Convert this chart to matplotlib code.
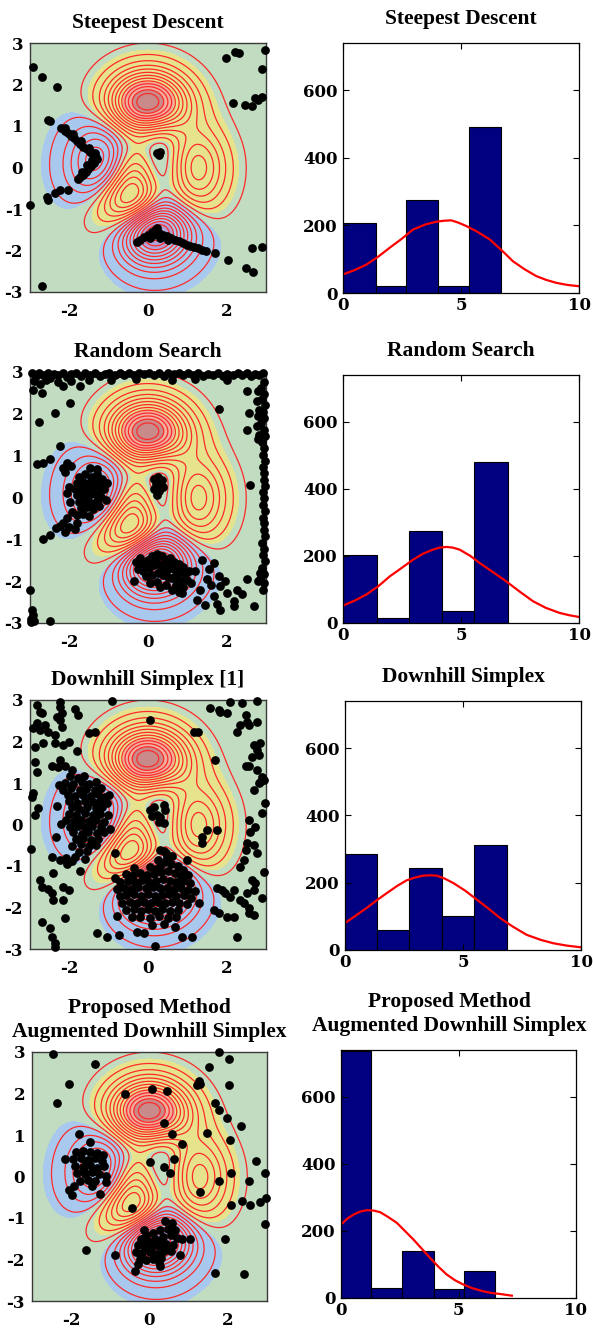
import numpy as np
import matplotlib
matplotlib.use("Agg")
import matplotlib.pyplot as plt

plt.rcParams["axes.unicode_minus"] = False

# ---------------- data ----------------
titles_left = ["Steepest Descent", "Random Search", "Downhill Simplex [1]",
               "Proposed Method\nAugmented Downhill Simplex"]
titles_right = ["Steepest Descent", "Random Search", "Downhill Simplex",
                "Proposed Method\nAugmented Downhill Simplex"]

# histogram bin edges and counts (per method)
hist_edges = [
    [0, 1.38, 2.68, 4.03, 5.34, 6.68],
    [0, 1.44, 2.80, 4.18, 5.55, 6.99],
    [0, 1.37, 2.73, 4.11, 5.48, 6.88],
    [0, 1.29, 2.61, 3.97, 5.24, 6.56],
]
hist_counts = [
    [208, 20, 274, 20, 492],
    [203, 14, 274, 35, 481],
    [284, 60, 244, 102, 313],
    [736, 29, 139, 27, 82],
]
# red fitted curve
curve_x = [
    [0, 0.5, 0.99, 1.5, 1.98, 2.5, 2.97, 3.5, 3.95, 4.3, 4.59, 4.9, 5.23, 5.7, 6.21, 6.7,
     7.2, 7.7, 8.19, 8.6, 9.04, 9.5, 10],
    [0, 0.5, 0.99, 1.5, 1.98, 2.5, 2.97, 3.4, 3.81, 4.1, 4.38, 4.65, 4.94, 5.4, 5.79, 6.35,
     6.92, 7.5, 8.05, 8.6, 9.18, 9.6, 10],
    [0, 0.45, 0.92, 1.35, 1.77, 2.2, 2.61, 3.0, 3.32, 3.6, 3.88, 4.2, 4.59, 5.1, 5.58, 6.1,
     6.57, 7.1, 7.7, 8.3, 8.83, 9.4, 10],
    [0, 0.27, 0.54, 0.82, 1.10, 1.38, 1.67, 2.0, 2.38, 2.72, 3.09, 3.45, 3.80, 4.15, 4.5,
     4.85, 5.21, 5.6, 6.06, 6.4, 6.77, 7.27],
]
curve_y = [
    [55, 68, 84, 108, 134, 161, 188, 203, 211, 214, 215, 208, 198, 181, 159, 128,
     94, 70, 50, 39, 30, 24, 20],
    [52, 67, 85, 110, 139, 165, 189, 207, 219, 225, 227, 225, 219, 200, 179, 152,
     124, 93, 65, 45, 30, 23, 18],
    [80, 102, 125, 148, 169, 190, 207, 216, 221, 222, 221, 213, 199, 176, 150, 122,
     95, 70, 45, 30, 20, 13, 8],
    [219, 237, 249, 258, 262, 261, 256, 242, 224, 200, 174, 146, 119, 93, 70,
     53, 40, 29, 20, 15, 12, 7],
]

# ---- search points (x, y) ----
pts_steepest = [
    (-2.92, 2.43), (-2.69, 2.19), (-2.31, 1.93), (-2.54, 1.14), (-2.50, 1.12),
    (-2.23, -0.54), (-2.37, -0.61), (-2.03, -0.54), (-2.58, -0.70), (-2.54, -0.78),
    (-2.99, -0.90), (-2.69, -2.86), (0.22, 0.34), (0.31, 0.38), (0.27, 0.30),
    (2.04, -2.23), (2.64, -1.95), (2.89, -1.92), (2.49, -2.43), (2.66, -2.53),
    (1.98, 2.63), (2.21, 2.79), (2.32, 2.75), (2.98, 2.82), (2.91, 2.37),
    (2.17, 1.55), (2.47, 1.51), (2.64, 1.48), (2.72, 1.67), (2.89, 1.69), (2.80, 1.62),
    # trajectory towards left minimum
    (-2.20, 0.94), (-2.12, 0.88), (-2.04, 0.82), (-1.96, 0.76), (-1.88, 0.70),
    (-1.80, 0.63), (-1.72, 0.57), (-1.64, 0.50), (-1.56, 0.44), (-1.48, 0.38),
    (-1.40, 0.32), (-1.33, 0.26), (-1.30, 0.20), (-1.38, 0.12), (-1.45, 0.04),
    (-1.52, -0.04), (-1.58, -0.11), (-1.65, -0.18), (-1.72, -0.24), (-1.77, -0.28),
    (-2.10, 0.95), (-1.90, 0.80), (-1.70, 0.65), (-1.50, 0.48), (-1.35, 0.35),
    (-1.42, 0.18), (-1.55, 0.05), (-1.68, -0.12),
    # trajectory along bottom minimum
    (-0.29, -1.80), (-0.20, -1.74), (-0.10, -1.68), (0.00, -1.62), (0.10, -1.56),
    (0.18, -1.50), (0.22, -1.46), (0.28, -1.58), (0.38, -1.62), (0.48, -1.66),
    (0.58, -1.70), (0.68, -1.74), (0.78, -1.78), (0.88, -1.82), (0.98, -1.86),
    (1.08, -1.89), (1.18, -1.92), (1.28, -1.95), (1.38, -1.98), (1.48, -2.00),
    (1.70, -2.07), (0.05, -1.70), (0.30, -1.70), (0.50, -1.75), (0.12, -1.62),
]

pts_random = [
    # top border
    (-2.95, 2.97), (-2.85, 2.90), (-2.78, 2.98), (-2.66, 2.93), (-2.55, 2.97), (-2.48, 2.86),
    (-2.40, 2.96), (-2.28, 2.92), (-2.15, 2.98), (-2.05, 2.88), (-1.95, 2.95), (-1.82, 2.97),
    (-1.70, 2.90), (-1.60, 2.97), (-1.48, 2.93), (-1.35, 2.98), (-1.22, 2.91), (-1.10, 2.96),
    (-0.98, 2.98), (-0.85, 2.92), (-0.72, 2.97), (-0.60, 2.94), (-0.48, 2.98), (-0.35, 2.92),
    (-0.22, 2.97), (-0.10, 2.95), (0.02, 2.98), (0.15, 2.93), (0.28, 2.97), (0.40, 2.91),
    (0.52, 2.97), (0.65, 2.95), (0.78, 2.98), (0.90, 2.92), (1.02, 2.97), (1.15, 2.94),
    (1.28, 2.98), (1.40, 2.91), (1.52, 2.96), (1.65, 2.93), (1.78, 2.98), (1.90, 2.90),
    (2.02, 2.96), (2.15, 2.93), (2.28, 2.98), (2.40, 2.92), (2.52, 2.97), (2.62, 2.90),
    (2.72, 2.96), (2.82, 2.93), (2.92, 2.98), (-2.90, 2.78), (-2.75, 2.72), (-2.60, 2.80),
    (-2.30, 2.75), (-1.95, 2.78), (-1.50, 2.82), (-0.95, 2.80), (-0.30, 2.84), (0.60, 2.82),
    (1.20, 2.84), (2.00, 2.80),
    # upper-left scatter
    (-2.92, 2.58), (-2.70, 2.50), (-2.15, 2.66), (-1.73, 2.66), (-1.98, 2.27), (-2.36, 2.02),
    (-2.76, 1.80), (-2.25, 1.24), (-2.49, 0.92), (-2.66, 0.82), (-2.83, 0.80),
    # right border
    (2.95, 2.75), (2.88, 2.62), (2.96, 2.48), (2.90, 2.35), (2.97, 2.20), (2.92, 2.05),
    (2.96, 1.90), (2.88, 1.78), (2.95, 1.62), (2.97, 1.48), (2.91, 1.33), (2.96, 1.18),
    (2.93, 1.02), (2.97, 0.88), (2.92, 0.72), (2.96, 0.58), (2.94, 0.42), (2.97, 0.28),
    (2.92, 0.12), (2.96, -0.02), (2.93, -0.18), (2.97, -0.32), (2.92, -0.48), (2.96, -0.62),
    (2.94, -0.78), (2.97, -0.92), (2.91, -1.08), (2.96, -1.22), (2.93, -1.38), (2.97, -1.52),
    (2.90, -1.68), (2.95, -1.82), (2.86, -1.95), (2.96, -2.05), (2.92, -2.22), (2.80, 2.55),
    (2.78, 2.30), (2.82, 2.10), (2.80, 1.95), (2.76, 1.70), (2.82, 1.50), (2.84, -1.80),
    (2.80, -2.00), (2.52, 2.54), (2.56, 2.02), (2.52, 1.62), (2.79, 1.39), (1.80, 2.12),
    (2.60, 0.31),
    # lower-left corner
    (-3.00, -2.20), (-2.95, -2.70), (-2.92, -2.80), (-2.97, -2.90), (-2.90, -2.95),
    (-2.97, -2.98), (-2.49, -2.96),
    # left minimum cluster
    (-1.75, 0.50), (-1.60, 0.55), (-1.45, 0.50), (-1.30, 0.55), (-1.18, 0.45), (-1.80, 0.35),
    (-1.65, 0.38), (-1.50, 0.35), (-1.35, 0.40), (-1.22, 0.30), (-1.85, 0.20), (-1.70, 0.22),
    (-1.55, 0.20), (-1.40, 0.22), (-1.25, 0.15), (-1.12, 0.20), (-1.80, 0.05), (-1.65, 0.08),
    (-1.50, 0.05), (-1.35, 0.08), (-1.20, 0.02), (-1.75, -0.10), (-1.60, -0.08), (-1.45, -0.12),
    (-1.30, -0.08), (-1.70, -0.25), (-1.55, -0.22), (-1.40, -0.28), (-1.25, -0.20),
    (-1.57, 0.28), (-1.42, 0.14), (-1.62, -0.01), (-1.48, -0.18), (-1.33, 0.31),
    (-2.15, 0.70), (-2.05, 0.82), (-1.95, 0.75), (-2.10, 0.60), (-1.48, 0.70), (-1.30, 0.68),
    (-2.00, 0.25), (-2.05, 0.10), (-1.98, -0.10), (-1.92, -0.35), (-1.80, -0.42), (-1.65, -0.40),
    (-1.50, -0.45), (-1.08, -0.05), (-1.05, 0.35),
    (-2.05, -0.50), (-2.15, -0.60), (-2.25, -0.68), (-2.35, -0.72), (-2.00, -0.70),
    (-2.10, -0.82), (-2.50, -0.90), (-2.66, -1.00), (-1.85, -0.75), (-1.80, -0.60),
    # centre saddle cluster
    (0.15, 0.45), (0.25, 0.50), (0.35, 0.42), (0.20, 0.32), (0.30, 0.30), (0.15, 0.20),
    (0.28, 0.15), (0.38, 0.25), (0.22, 0.05),
    # bottom minimum cluster
    (-0.30, -1.55), (-0.20, -1.45), (-0.10, -1.60), (0.00, -1.50), (0.10, -1.40), (0.22, -1.35),
    (0.35, -1.40), (0.45, -1.50), (0.55, -1.45), (0.65, -1.55), (0.78, -1.60), (0.90, -1.65),
    (-0.25, -1.70), (-0.12, -1.75), (0.02, -1.68), (0.15, -1.62), (0.28, -1.58), (0.40, -1.65),
    (0.52, -1.70), (0.65, -1.72), (0.80, -1.78), (0.95, -1.82), (1.05, -1.75),
    (-0.05, -1.88), (0.10, -1.85), (0.25, -1.80), (0.38, -1.85), (0.50, -1.90), (0.62, -1.92),
    (0.75, -1.95), (0.88, -2.00), (1.00, -1.98), (0.05, -2.05), (0.22, -2.02), (0.45, -2.08),
    (0.70, -2.10), (0.90, -2.15), (-0.35, -2.00), (0.30, -2.15), (0.80, -2.25), (1.10, -2.05),
    (0.60, -2.20), (0.18, -1.48), (0.58, -1.60), (0.34, -1.74), (-0.18, -1.60), (0.72, -1.85),
    # lower-right scatter
    (1.37, -1.49), (1.54, -1.72), (1.67, -1.57), (1.80, -1.88), (1.84, -2.12), (2.01, -2.28),
    (2.18, -2.48), (2.26, -2.21), (1.67, -2.36), (1.84, -2.68), (1.46, -2.56), (2.52, -1.96),
    (2.69, -2.60), (2.18, -2.60), (1.33, -2.20), (0.86, -2.28), (1.20, -1.75), (1.50, -1.95),
    (1.60, -2.10), (1.95, -2.00), (2.40, -2.30), (1.25, -2.45), (1.75, -2.55),
]

pts_simplex = [
    # scattered (left half)
    (-2.81, 2.88), (-2.75, 2.72), (-2.70, 2.68), (-2.24, 2.96), (-2.25, 2.84), (-2.19, 2.68),
    (-2.32, 2.60), (-2.24, 2.53), (-1.85, 2.78), (-1.79, 2.64), (-2.83, 2.44), (-2.92, 2.32),
    (-2.62, 2.40), (-2.75, 2.28), (-2.53, 2.24), (-2.19, 2.36), (-2.36, 2.16), (-2.66, 1.97),
    (-2.87, 1.86), (-2.36, 1.96), (-2.15, 1.92), (-2.02, 2.00), (-1.81, 1.76), (-2.24, 1.55),
    (-2.45, 1.41), (-2.28, 1.39), (-2.11, 1.41), (-1.94, 1.31), (-2.87, 1.51), (-2.83, 1.27),
    (-1.51, 2.21), (-1.34, 2.24), (-0.92, 2.98), (0.06, 2.53), (-2.92, 0.75), (-2.96, 0.67),
    (-2.87, 0.23), (-2.79, 0.39), (-2.98, -0.60), (-2.45, -0.79), (-2.24, -0.86), (-2.41, -1.18),
    (-1.73, -1.11), (-2.15, -1.50), (-2.02, -1.58), (-2.75, -1.34), (-2.70, -1.50), (-2.53, -1.56),
    (-2.45, -1.66), (-2.41, -1.82), (-2.15, -1.82), (-2.70, -2.34), (-2.11, -2.26), (-2.49, -2.50),
    (-2.45, -2.70), (-2.36, -2.86), (-2.36, -2.94), (-1.30, -2.62), (-1.05, -2.70), (-0.75, -2.66),
    (-0.28, -2.58), (-0.11, -2.62), (0.18, -2.93), (0.86, -2.70), (1.12, -2.70), (0.69, -2.46),
    # scattered (right half)
    (1.58, 2.80), (1.80, 2.76), (1.84, 2.72), (2.01, 2.68), (2.09, 2.94), (2.39, 2.92),
    (2.76, 2.98), (2.48, 2.64), (2.52, 2.48), (2.35, 2.40), (2.56, 2.40), (2.77, 2.48),
    (2.26, 2.24), (1.16, 2.24), (1.26, 2.24), (2.69, 1.92), (2.77, 1.80), (2.65, 1.63),
    (2.86, 1.96), (2.82, 1.67), (1.71, 1.55), (2.48, 1.41), (2.56, 1.41), (2.77, 1.31),
    (2.90, 1.15), (2.86, 1.03), (2.82, 0.99), (2.94, 1.07), (2.69, 0.83), (2.98, 0.51),
    (2.90, 0.27), (2.56, 0.11), (2.60, -0.17), (2.73, -0.05), (2.52, -0.45), (2.69, -0.49),
    (2.48, -0.61), (2.77, -0.69), (2.43, -0.86), (2.35, -1.02), (2.94, -1.14), (1.75, -1.54),
    (1.88, -1.58), (1.97, -1.66), (2.09, -1.74), (2.18, -1.58), (2.52, -1.66), (2.65, -1.34),
    (2.73, -1.42), (2.69, -1.58), (2.90, -1.78), (2.35, -1.82), (2.43, -1.90), (2.56, -2.02),
    (2.56, -2.14), (2.69, -2.18), (2.01, -2.22), (2.18, -2.22), (1.67, -2.06), (1.80, -2.14),
    (2.26, -2.70), (1.50, -0.13), (1.75, -0.13), (1.37, -0.29), (1.37, -0.45), (0.99, -0.86),
    (0.48, -0.78), (0.40, -0.65), (0.31, -1.02), (-0.84, -0.69),
    # centre saddle cluster
    (0.06, 0.35), (0.14, 0.43), (0.22, 0.23), (0.40, 0.47), (0.44, 0.35), (0.31, 0.19),
    (0.40, 0.03), (0.27, 0.07), (0.10, 0.20),
    # left minimum cluster
    (-1.98, 1.16), (-1.79, 1.13), (-1.62, 1.17), (-2.12, 1.01), (-1.91, 0.98), (-1.68, 1.02),
    (-1.49, 0.97), (-1.31, 1.03), (-2.16, 0.84), (-1.96, 0.87), (-1.74, 0.83), (-1.57, 0.86),
    (-1.36, 0.82), (-1.19, 0.88), (-2.04, 0.71), (-1.86, 0.68), (-1.64, 0.72), (-1.44, 0.69),
    (-1.27, 0.73), (-1.09, 0.67), (-2.02, 0.56), (-1.81, 0.53), (-1.59, 0.57), (-1.41, 0.54),
    (-1.22, 0.56), (-1.04, 0.52), (-1.94, 0.41), (-1.76, 0.38), (-1.54, 0.42), (-1.33, 0.39),
    (-1.16, 0.41), (-2.01, 0.26), (-1.82, 0.23), (-1.61, 0.27), (-1.39, 0.24), (-1.21, 0.26),
    (-1.02, 0.22), (-2.09, 0.11), (-1.88, 0.08), (-1.71, 0.12), (-1.49, 0.09), (-1.31, 0.11),
    (-1.12, 0.07), (-1.99, -0.06), (-1.79, -0.03), (-1.61, -0.07), (-1.42, -0.04), (-1.19, -0.06),
    (-1.91, -0.19), (-1.69, -0.22), (-1.52, -0.18), (-1.29, -0.21), (-1.12, -0.19),
    (-1.84, -0.36), (-1.66, -0.33), (-1.44, -0.37), (-1.26, -0.34), (-1.92, -0.51),
    (-1.71, -0.48), (-1.49, -0.52), (-1.31, -0.49), (-1.76, -0.66), (-1.54, -0.63),
    (-2.08, -0.81), (-1.86, -0.78), (-1.61, -0.82), (-2.26, 0.95), (-2.31, 0.45),
    (-2.21, 0.01), (-2.34, -0.29), (-0.99, 0.71), (-0.96, -0.11), (-2.05, -0.94), (-1.94, -0.89),
    # bottom minimum cluster
    (0.30, -0.62), (0.45, -0.68), (0.60, -0.75), (0.25, -0.85), (0.42, -0.90), (0.58, -0.95),
    (0.75, -1.00), (-0.35, -1.05), (0.05, -1.02), (0.20, -1.08), (0.88, -1.10),
    (-0.55, -1.20), (-0.38, -1.22), (-0.20, -1.18), (-0.02, -1.22), (0.15, -1.20), (0.32, -1.15),
    (0.50, -1.12), (0.68, -1.18), (0.85, -1.25), (1.02, -1.22),
    (-0.70, -1.38), (-0.52, -1.35), (-0.34, -1.38), (-0.16, -1.34), (0.02, -1.38), (0.20, -1.35),
    (0.38, -1.32), (0.55, -1.36), (0.72, -1.38), (0.90, -1.35), (1.08, -1.42),
    (-0.78, -1.55), (-0.60, -1.52), (-0.42, -1.55), (-0.25, -1.50), (-0.06, -1.53), (0.12, -1.50),
    (0.30, -1.54), (0.48, -1.52), (0.66, -1.55), (0.84, -1.52), (1.02, -1.58), (1.20, -1.60),
    (-0.72, -1.72), (-0.55, -1.70), (-0.36, -1.68), (-0.18, -1.72), (0.00, -1.68), (0.18, -1.72),
    (0.36, -1.70), (0.54, -1.68), (0.72, -1.72), (0.92, -1.70), (1.10, -1.76),
    (-0.65, -1.90), (-0.46, -1.86), (-0.28, -1.90), (-0.10, -1.86), (0.08, -1.90), (0.26, -1.86),
    (0.44, -1.90), (0.62, -1.86), (0.80, -1.90), (0.98, -1.92),
    (-0.55, -2.06), (-0.36, -2.04), (-0.18, -2.08), (0.00, -2.04), (0.18, -2.08), (0.36, -2.04),
    (0.55, -2.08), (0.75, -2.05), (-0.40, -2.24), (-0.20, -2.22), (0.05, -2.25), (0.28, -2.20),
    (0.50, -2.26), (0.72, -2.22), (-0.85, -1.30), (1.30, -1.90), (-0.80, -2.20), (0.10, -2.42),
    (0.40, -2.40),
]

pts_proposed = [
    (-2.46, 2.96), (-1.38, 2.70), (-2.06, 2.22), (-2.36, 1.78), (-0.62, 1.98), (0.06, 2.11),
    (0.45, 2.05), (0.36, 1.29), (0.57, 1.02), (0.83, 0.79), (0.02, 0.35), (0.36, 0.23),
    (0.62, 0.43), (0.53, 0.08), (1.30, -0.37), (-0.45, -0.75), (1.78, 3.00), (2.04, 2.82),
    (1.51, 2.64), (1.26, 2.30), (1.21, 2.20), (1.30, 2.24), (2.04, 2.20), (1.68, 1.77),
    (1.77, 1.61), (1.98, 1.42), (2.34, 1.21), (1.47, 1.05), (2.06, 0.87), (2.72, 0.37),
    (2.09, 0.08), (1.78, -0.12), (2.53, -0.12), (2.96, 0.08), (2.97, -0.53), (2.83, -0.61),
    (2.56, -0.69), (2.36, -0.59), (2.09, -0.69), (2.96, -1.15), (1.92, -1.50), (1.68, -2.33),
    (2.42, -2.36), (1.04, -1.50), (0.83, -1.50), (0.77, -1.90), (-0.87, -1.90), (-1.61, -1.76),
    (-0.36, -2.28), (0.28, -2.16),
    # left minimum cluster
    (-1.79, 1.03), (-1.51, 0.83), (-2.15, 0.41), (-1.26, -0.43), (-1.98, -0.45), (-2.06, -0.33),
    (-1.88, 0.58), (-1.70, 0.62), (-1.52, 0.60), (-1.33, 0.57), (-1.18, 0.52), (-1.95, 0.42),
    (-1.76, 0.44), (-1.58, 0.40), (-1.40, 0.45), (-1.22, 0.38), (-1.90, 0.26), (-1.71, 0.22),
    (-1.52, 0.27), (-1.34, 0.21), (-1.15, 0.25), (-1.84, 0.08), (-1.65, 0.05), (-1.46, 0.10),
    (-1.28, 0.06), (-1.10, 0.02), (-1.78, -0.10), (-1.58, -0.08), (-1.38, -0.12), (-1.92, -0.22),
    (-1.10, -0.14), (-1.48, -0.24), (-1.62, 0.33), (-1.44, 0.17), (-1.68, 0.14),
    # bottom minimum cluster
    (0.40, -1.08), (0.58, -1.12), (0.66, -1.28), (0.48, -1.26), (0.28, -1.30), (0.10, -1.36),
    (-0.08, -1.42), (-0.22, -1.50), (-0.05, -1.55), (0.15, -1.50), (0.35, -1.45), (0.55, -1.42),
    (0.70, -1.48), (-0.30, -1.66), (-0.12, -1.70), (0.06, -1.66), (0.24, -1.68), (0.42, -1.62),
    (0.60, -1.64), (-0.35, -1.82), (-0.18, -1.85), (0.00, -1.82), (0.18, -1.86), (0.38, -1.80),
    (0.55, -1.80), (-0.25, -1.98), (-0.08, -2.00), (0.10, -1.98), (0.30, -1.96), (-0.30, -2.10),
    (-0.15, -1.28), (0.25, -2.05), (0.25, -1.56), (0.05, -1.75), (0.45, -1.72), (-0.20, -1.62),
]
all_pts = [pts_steepest, pts_random, pts_simplex, pts_proposed]

# ---------------- layout (pixels of a 593x1328 canvas) ----------------
W, H = 593, 1328
left_boxes = [(30, 43, 266, 292), (30, 372, 266, 623), (30, 700, 266, 949), (32, 1052, 267, 1301)]
right_boxes = [(343, 43, 579, 293), (343, 375, 579, 623), (345, 701, 581, 950), (341, 1050, 576, 1298)]
right_title_x = [0.5, 0.5, 0.5, 0.46]


def frac(b):
    x0, y0, x1, y1 = b
    return [x0 / W, 1 - y1 / H, (x1 - x0) / W, (y1 - y0) / H]


fig = plt.figure(figsize=(W / 100, H / 100), dpi=100)
fig.patch.set_facecolor("white")

TITLE_FONT = dict(family="Liberation Serif", weight="bold", size=15.5)
TICK_FAMILY = "DejaVu Serif"
TICK_SIZE = 12

# surface (MATLAB peaks function) on which the searches run
g = np.linspace(-3, 3, 300)
X, Y = np.meshgrid(g, g)
Z = (3 * (1 - X) ** 2 * np.exp(-X ** 2 - (Y + 1) ** 2)
     - 10 * (X / 5 - X ** 3 - Y ** 5) * np.exp(-X ** 2 - Y ** 2)
     - 1 / 3 * np.exp(-(X + 1) ** 2 - Y ** 2))
fill_levels = [-7.0, -5.0, -0.12, 0.6, 5.4, 7.0, 8.5]
fill_colors = ["#b0a3d8", "#a9c8ee", "#c1dcc1", "#e7e28c", "#efae9e", "#c98a8a"]
line_levels = np.arange(-6.3, 8.0, 0.6)

for i in range(4):
    ax = fig.add_axes(frac(left_boxes[i]))
    ax.contourf(X, Y, Z, levels=fill_levels, colors=fill_colors)
    ax.contour(X, Y, Z, levels=line_levels, colors="#ff2a2a", linewidths=0.9,
               linestyles="solid")
    px = [p[0] for p in all_pts[i]]
    py = [p[1] for p in all_pts[i]]
    ax.plot(px, py, "o", color="black", ms=6.3, mew=0, clip_on=False, zorder=5)
    ax.set_xlim(-3, 3)
    ax.set_ylim(-3, 3)
    ax.set_xticks([-2, 0, 2])
    ax.set_yticks([-3, -2, -1, 0, 1, 2, 3])
    ax.tick_params(direction="in", length=0, pad=5)
    ax.tick_params(axis="x", pad=8)
    for lab in ax.get_xticklabels() + ax.get_yticklabels():
        lab.set_fontfamily(TICK_FAMILY)
        lab.set_fontweight("bold")
        lab.set_fontsize(TICK_SIZE)
    for s in ax.spines.values():
        s.set_color("#3a3a3a")
        s.set_linewidth(1.0)
    ax.set_title(titles_left[i], pad=11, linespacing=1.25, **TITLE_FONT)

for i in range(4):
    ax = fig.add_axes(frac(right_boxes[i]))
    e = hist_edges[i]
    widths = [e[k + 1] - e[k] for k in range(len(e) - 1)]
    ax.bar(e[:-1], hist_counts[i], width=widths, align="edge",
           color="#000080", edgecolor="black", linewidth=0.8)
    ax.plot(curve_x[i], curve_y[i], color="red", lw=1.6)
    ax.set_xlim(0, 10)
    ax.set_ylim(0, 740)
    ax.set_xticks([0, 5, 10])
    ax.set_yticks([0, 200, 400, 600])
    ax.tick_params(direction="in", length=4, width=0.8, top=True, right=True,
                   labeltop=False, labelright=False, pad=3)
    ax.tick_params(axis="y", pad=4)
    for lab in ax.get_xticklabels() + ax.get_yticklabels():
        lab.set_fontfamily(TICK_FAMILY)
        lab.set_fontweight("bold")
        lab.set_fontsize(TICK_SIZE)
    for s in ax.spines.values():
        s.set_color("black")
        s.set_linewidth(0.9)
    ax.set_title(titles_right[i], pad=14, linespacing=1.25, x=right_title_x[i],
                 **TITLE_FONT)

fig.savefig("out.png", dpi=100)
